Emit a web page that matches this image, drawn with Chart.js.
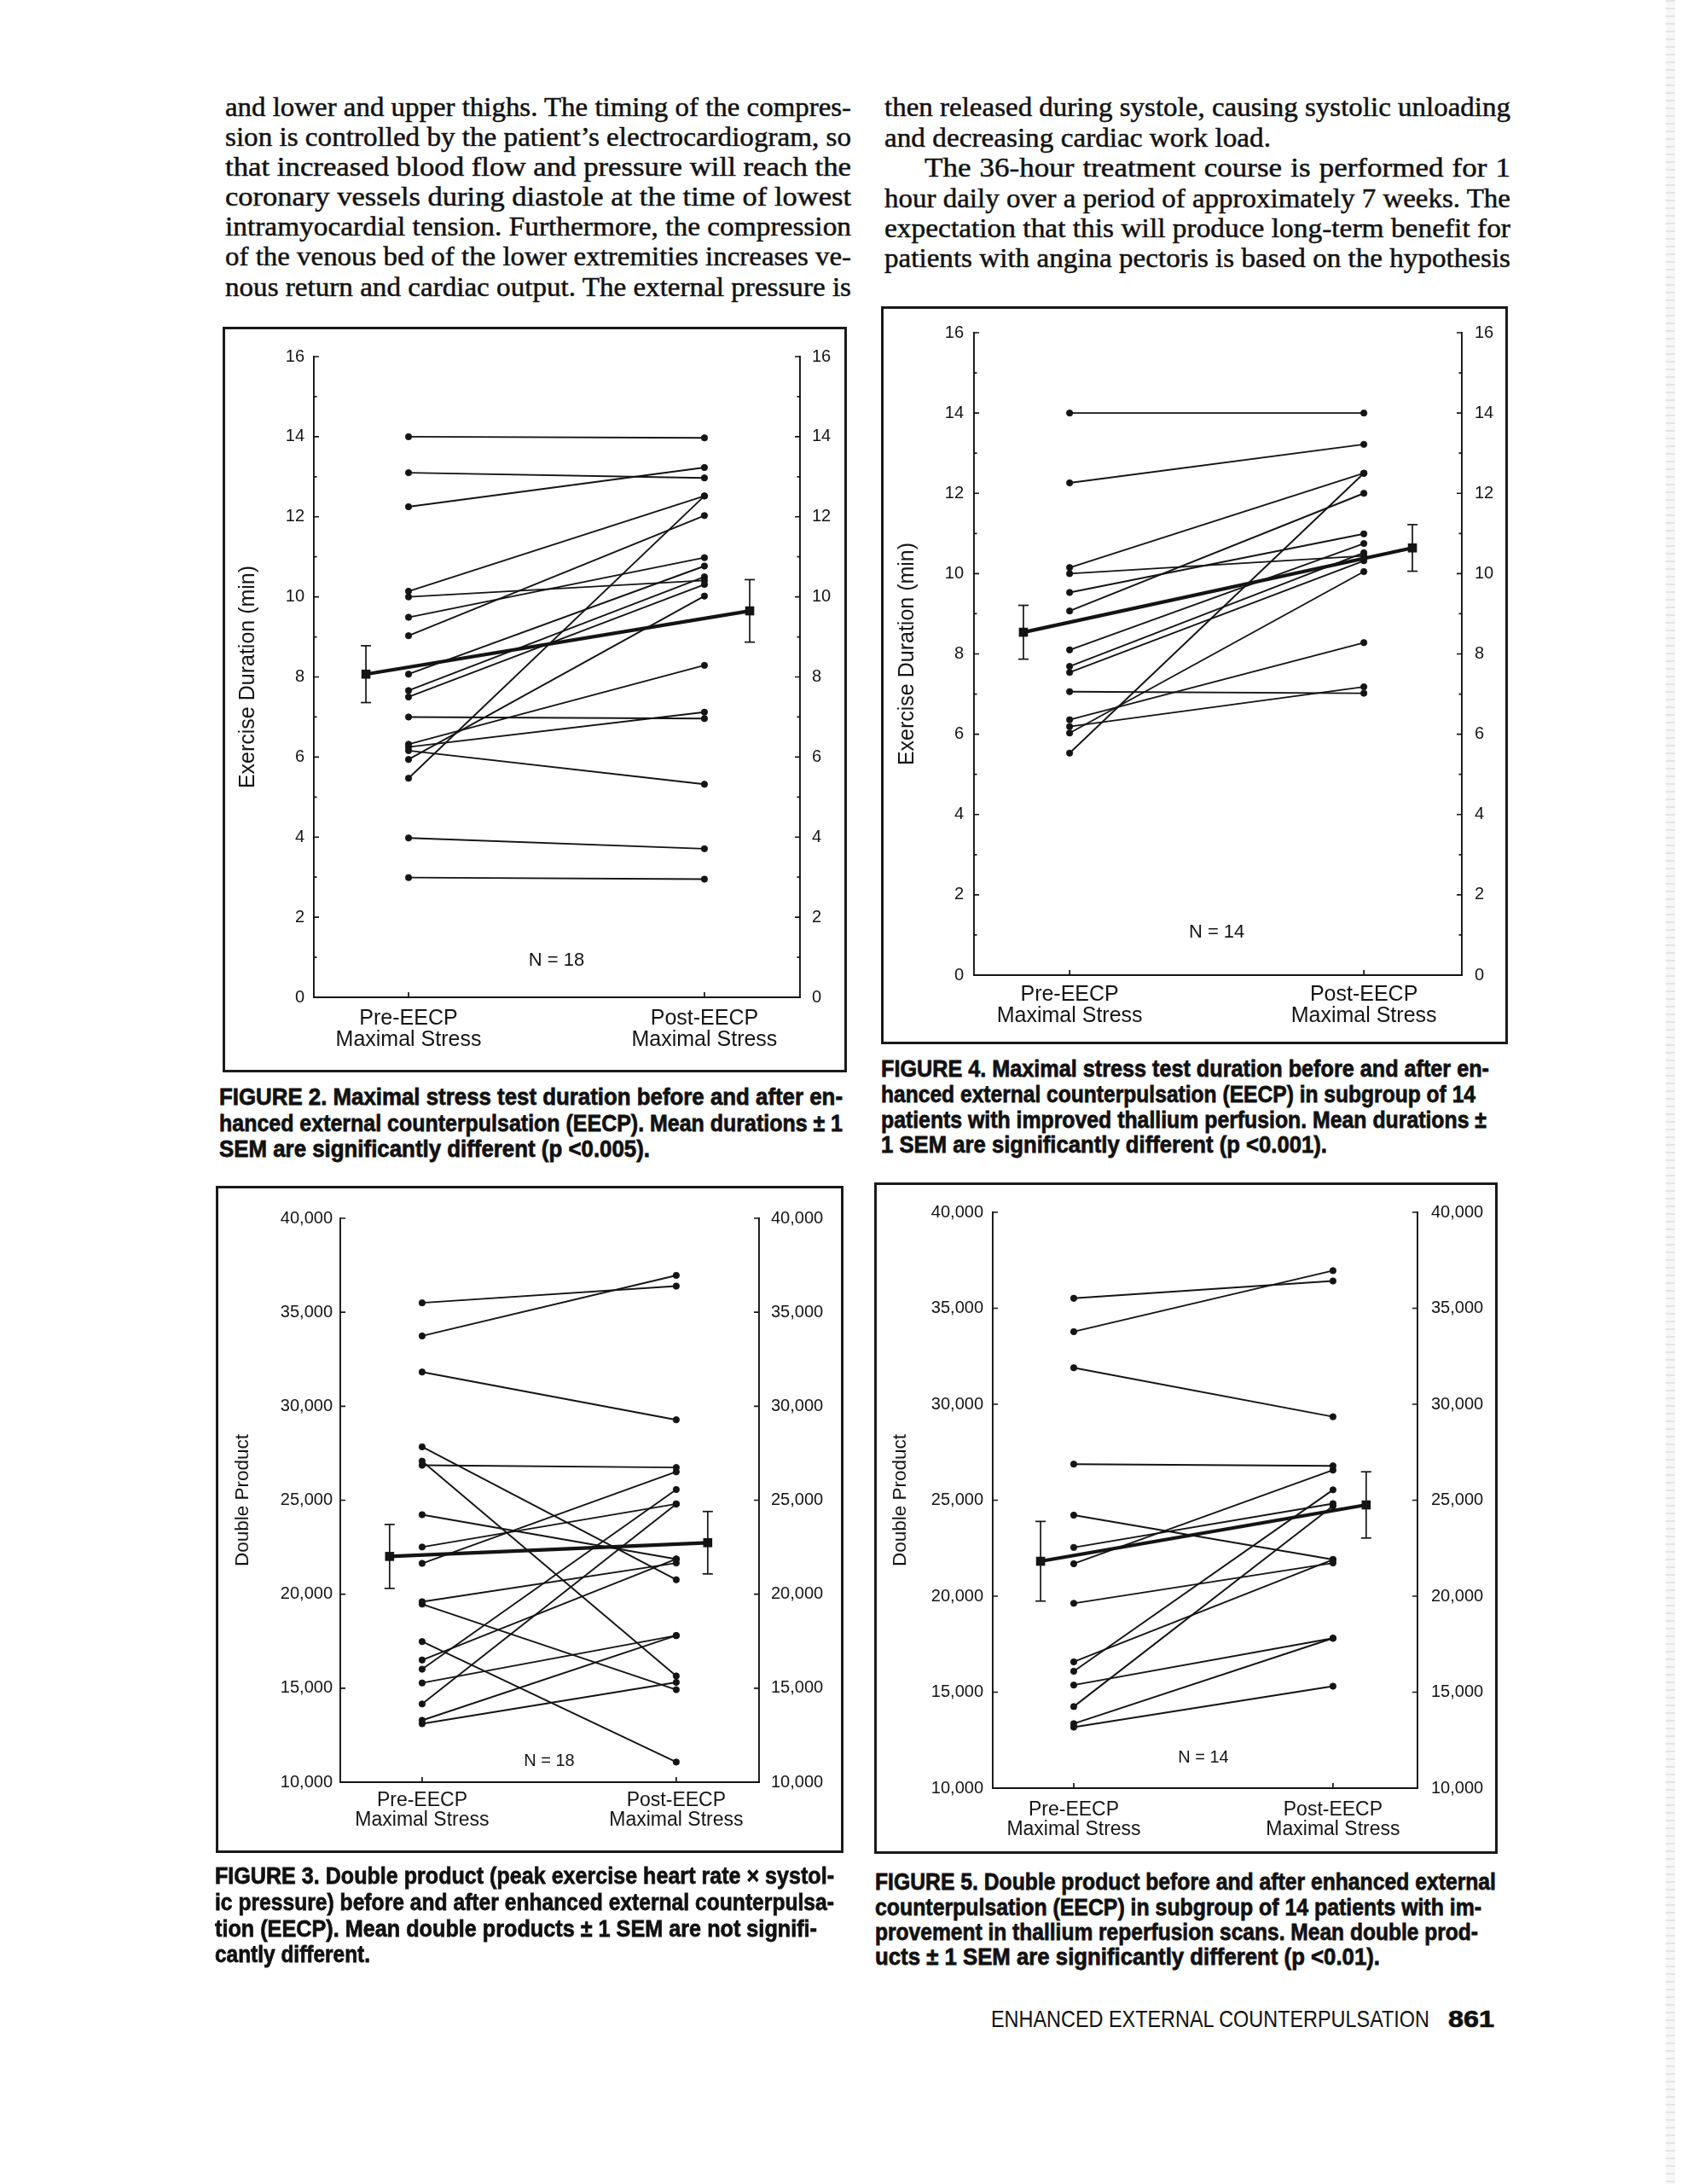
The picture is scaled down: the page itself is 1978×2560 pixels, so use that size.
<!DOCTYPE html>
<html>
<head>
<meta charset="utf-8">
<script src="https://cdn.jsdelivr.net/npm/chart.js@4.4.1/dist/chart.umd.min.js"></script>
<style>
html, body { margin:0; padding:0; background:#fff; }
body { position:relative; width:1978px; height:2560px; overflow:hidden; }
.ln { position:absolute; white-space:nowrap; line-height:1; transform-origin:0 50%; color:#111; }
.serif { font-family:"Liberation Serif","DejaVu Serif",serif; font-size:35px; -webkit-text-stroke:0.55px #111; }
.cap { font-family:"Liberation Sans","DejaVu Sans",sans-serif; font-weight:700; font-size:36px; -webkit-text-stroke:1px #111; }
.foot { font-family:"Liberation Sans","DejaVu Sans",sans-serif; font-size:31px; }
.footb { font-family:"Liberation Sans","DejaVu Sans",sans-serif; font-size:31px; font-weight:700; -webkit-text-stroke:0.8px #111; }
.frame { position:absolute; border:3px solid #1a1a1a; box-sizing:border-box; pointer-events:none; }
canvas.fig { position:absolute; }
.scanedge { position:absolute; left:1953px; top:0; width:11px; height:2560px;
  background:repeating-linear-gradient(180deg, rgba(0,0,0,0.10) 0 2px, rgba(0,0,0,0.03) 2px 9px); }
</style>
</head>
<body>
<div class="scanedge"></div>
<canvas id="c2" class="fig"></canvas>
<canvas id="c4" class="fig"></canvas>
<canvas id="c3" class="fig"></canvas>
<canvas id="c5" class="fig"></canvas>
<div id="frames"></div>
<div id="texts"></div>
<script>
// ---------------- DATA ----------------
const categories = [["Pre-EECP", "Maximal Stress"], ["Post-EECP", "Maximal Stress"]];

const durationTickValues = [0, 2, 4, 6, 8, 10, 12, 14, 16];
const durationTickLabels = ["0", "2", "4", "6", "8", "10", "12", "14", "16"];
const durationMinorTicks = [1, 3, 5, 7, 9, 11, 13, 15];

const dpTickValues = [10000, 15000, 20000, 25000, 30000, 35000, 40000];
const dpTickLabels = ["10,000", "15,000", "20,000", "25,000", "30,000", "35,000", "40,000"];

// Figure 2: exercise duration (min), N = 18
const fig2Pre  = [14.0, 13.1, 12.25, 10.14, 10.0, 9.49, 9.03, 8.07, 7.66, 7.5, 7.0, 6.32, 6.25, 6.16, 5.94, 5.47, 3.98, 2.99];
const fig2Post = [13.97, 12.97, 13.23, 12.52, 10.41, 10.98, 12.03, 10.77, 10.5, 10.31, 6.96, 8.29, 7.12, 5.32, 10.02, 12.52, 3.71, 2.95];
const fig2Mean = [8.07, 9.65];
const fig2Sem  = [0.71, 0.78];

// Figure 4: exercise duration (min), subgroup N = 14
const fig4Pre  = [14.0, 12.26, 10.15, 10.0, 9.53, 9.07, 8.1, 7.69, 7.54, 7.06, 6.36, 6.19, 6.03, 5.53];
const fig4Post = [14.0, 13.22, 12.5, 10.44, 10.99, 12.0, 10.75, 10.52, 10.32, 7.02, 8.28, 7.18, 10.05, 12.5];
const fig4Mean = [8.54, 10.64];
const fig4Sem  = [0.67, 0.58];

// Figure 3: double product, N = 18
const fig3Pre  = [35500, 33740, 31820, 27840, 27080, 26860, 24230, 22510, 21640, 19600, 19470, 17480, 16500, 16010, 15280, 14160, 13290, 13110];
const fig3Post = [36390, 36960, 29280, 20770, 15650, 26740, 21870, 24800, 26510, 21660, 14920, 11070, 21870, 25570, 17800, 24800, 17800, 15310];
const fig3Mean = [22010, 22740];
const fig3Sem  = [1700, 1660];

// Figure 5: double product, subgroup N = 14
const fig5Pre  = [35520, 33780, 31900, 26880, 24220, 22540, 21690, 19630, 16580, 16090, 15370, 14250, 13360, 13180];
const fig5Post = [36420, 36960, 29350, 26790, 21910, 24820, 26570, 21730, 21910, 25540, 17810, 24700, 17810, 15310];
const fig5Mean = [21820, 24755];
const fig5Sem  = [2075, 1725];

// ---------------- PAGE TEXT ----------------
const bodyLines = [
  ["and lower and upper thighs. The timing of the compres-", 264, 126, 734],
  ["sion is controlled by the patient\u2019s electrocardiogram, so", 264, 161, 734],
  ["that increased blood flow and pressure will reach the", 264, 196, 734],
  ["coronary vessels during diastole at the time of lowest", 264, 231, 734],
  ["intramyocardial tension. Furthermore, the compression", 264, 266, 734],
  ["of the venous bed of the lower extremities increases ve-", 264, 301, 734],
  ["nous return and cardiac output. The external pressure is", 264, 337, 734],
  ["then released during systole, causing systolic unloading", 1037, 126, 734],
  ["and decreasing cardiac work load.", 1037, 162, 453],
  ["The 36-hour treatment course is performed for 1", 1084, 197, 687],
  ["hour daily over a period of approximately 7 weeks. The", 1037, 233, 734],
  ["expectation that this will produce long-term benefit for", 1037, 268, 734],
  ["patients with angina pectoris is based on the hypothesis", 1037, 303, 734]
];
const captionLines = [
  ["FIGURE 2. Maximal stress test duration before and after en-", 257, 1286, 731],
  ["hanced external counterpulsation (EECP). Mean durations \u00b1 1", 257, 1317, 731],
  ["SEM are significantly different (p <0.005).", 257, 1347, 505],
  ["FIGURE 4. Maximal stress test duration before and after en-", 1033, 1253, 713],
  ["hanced external counterpulsation (EECP) in subgroup of 14", 1033, 1283, 697],
  ["patients with improved thallium perfusion. Mean durations \u00b1", 1033, 1313, 710],
  ["1 SEM are significantly different (p <0.001).", 1033, 1342, 523],
  ["FIGURE 3. Double product (peak exercise heart rate \u00d7 systol-", 252, 2199, 726],
  ["ic pressure) before and after enhanced external counterpulsa-", 252, 2230, 726],
  ["tion (EECP). Mean double products \u00b1 1 SEM are not signifi-", 252, 2261, 706],
  ["cantly different.", 252, 2291, 182],
  ["FIGURE 5. Double product before and after enhanced external", 1026, 2206, 728],
  ["counterpulsation (EECP) in subgroup of 14 patients with im-", 1026, 2236, 711],
  ["provement in thallium reperfusion scans. Mean double prod-", 1026, 2265, 707],
  ["ucts \u00b1 1 SEM are significantly different (p <0.01).", 1026, 2294, 592]
];
const footerLines = [
  ["ENHANCED EXTERNAL COUNTERPULSATION", 1162, 2367, 514, "foot", 0.9],
  ["861", 1698, 2367, 54, "footb", 0.9]
];

function placeLine(text, x, y, w, cls, sy) {
  const el = document.createElement('div');
  el.className = 'ln ' + cls;
  el.textContent = text;
  el.style.left = x + 'px';
  el.style.top = y + 'px';
  document.getElementById('texts').appendChild(el);
  const nat = el.getBoundingClientRect().width;
  let sx = w / nat;
  if (sx > 1) {
    const spaces = (text.match(/ /g) || []).length;
    if (spaces) { el.style.wordSpacing = ((w - nat) / spaces) + 'px'; sx = 1; }
  }
  el.style.transform = 'translateY(-50%) scale(' + sx + ',' + sy + ')';
}
bodyLines.forEach(l => placeLine(l[0], l[1], l[2], l[3], 'serif', 0.88));
captionLines.forEach(l => placeLine(l[0], l[1], l[2], l[3], 'cap', 0.76));
footerLines.forEach(l => placeLine(l[0], l[1], l[2], l[3], l[4], l[5]));

// ---------------- CHARTS ----------------
const ink = '#141414';
Chart.defaults.font.family = '"Liberation Sans", Arial, sans-serif';
Chart.defaults.color = ink;

const pageMarks = {
  id: 'pageMarks',
  afterDraw(chart, args, o) {
    const ctx = chart.ctx;
    const xs = chart.scales.x, yl = chart.scales.y, yr = chart.scales.y2;
    ctx.save();
    ctx.strokeStyle = ink;
    ctx.lineWidth = 1.7;
    ctx.beginPath();
    [[yl, 1, yl.right], [yr, -1, yr.left]].forEach(([s, dir, ax]) => {
      s.ticks.forEach(t => {
        const py = s.getPixelForValue(t.value);
        ctx.moveTo(ax, py); ctx.lineTo(ax + dir * 6, py);
      });
      (o.minor || []).forEach(v => {
        const py = s.getPixelForValue(v);
        ctx.moveTo(ax, py); ctx.lineTo(ax + dir * 3.5, py);
      });
    });
    xs.ticks.forEach(t => {
      const px = xs.getPixelForValue(t.value);
      ctx.moveTo(px, xs.top); ctx.lineTo(px, xs.top - 6);
    });
    ctx.stroke();
    ctx.fillStyle = ink;
    ctx.font = o.nFont + 'px "Liberation Sans", Arial, sans-serif';
    ctx.textAlign = 'center';
    ctx.textBaseline = 'middle';
    ctx.fillText(o.nText, xs.getPixelForValue(1.5), yl.getPixelForValue(o.nY));
    ctx.restore();
  }
};

function buildChart(id, L, d) {
  const W = L.box[2] - L.box[0], H = L.box[3] - L.box[1];
  const cv = document.getElementById(id);
  cv.width = W; cv.height = H;
  cv.style.left = L.box[0] + 'px'; cv.style.top = L.box[1] + 'px';
  cv.style.width = W + 'px'; cv.style.height = H + 'px';

  const fr = document.createElement('div');
  fr.className = 'frame';
  fr.style.left = L.box[0] + 'px'; fr.style.top = L.box[1] + 'px';
  fr.style.width = W + 'px'; fr.style.height = H + 'px';
  document.getElementById('frames').appendChild(fr);

  const datasets = d.pre.map((v, i) => ({
    data: [{x: 1, y: v}, {x: 2, y: d.post[i]}],
    showLine: true, borderColor: ink, borderWidth: 1.9,
    pointRadius: 3.7, pointStyle: 'circle', pointBackgroundColor: ink,
    pointBorderColor: ink, pointBorderWidth: 0.8, clip: false
  }));
  const mx = [1 - d.meanOff[0], 2 + d.meanOff[1]];
  datasets.push({
    data: mx.map((x, k) => ({x: x, y: d.mean[k]})),
    showLine: true, borderColor: ink, borderWidth: 4.2,
    pointStyle: 'rect', pointRadius: 7.5, pointBackgroundColor: ink,
    pointBorderColor: ink, pointBorderWidth: 0, clip: false
  });
  mx.forEach((x, k) => datasets.push({
    data: [{x: x, y: d.mean[k] - d.sem[k]}, {x: x, y: d.mean[k] + d.sem[k]}],
    showLine: true, borderColor: ink, borderWidth: 1.7,
    pointStyle: 'line', pointRadius: 6, pointBorderColor: ink,
    pointBorderWidth: 1.7, clip: false
  }));

  const yMin = d.tickValues[0], yMax = d.tickValues[d.tickValues.length - 1];
  const yAxis = (pos) => ({
    type: 'linear', position: pos, min: yMin, max: yMax,
    afterBuildTicks: s => { s.ticks = d.tickValues.map(v => ({value: v})); },
    afterFit: s => { s.width = pos === 'left' ? (L.plot[0] - L.box[0]) : (L.box[2] - L.plot[2]); },
    grid: {display: false, drawTicks: false},
    border: {display: true, color: ink, width: 1.9},
    ticks: {callback: (v, i) => d.tickLabels[i], color: ink, font: {size: 20}, padding: pos === 'left' ? d.lPad : d.rPad},
    title: pos === 'left'
      ? {display: true, text: d.yTitle, color: ink, font: {size: d.titleFont}, padding: {top: d.titlePad, bottom: 0}}
      : {display: false}
  });

  new Chart(cv, {
    type: 'scatter',
    data: {datasets: datasets},
    options: {
      responsive: false, animation: false, events: [],
      layout: {padding: {top: L.plot[1] - L.box[1], left: 0, right: 0, bottom: 0}},
      plugins: {
        legend: {display: false}, tooltip: {enabled: false},
        pageMarks: {minor: d.minor, nText: d.nText, nY: d.nY, nFont: d.nFont}
      },
      scales: {
        x: {
          type: 'linear', min: d.xRange[0], max: d.xRange[1],
          afterBuildTicks: s => { s.ticks = [{value: 1}, {value: 2}]; },
          afterFit: s => { s.height = L.box[3] - L.plot[3]; },
          grid: {display: false, drawTicks: false},
          border: {display: true, color: ink, width: 1.9},
          ticks: {callback: (v, i) => categories[i], color: ink,
                  font: {size: d.xFont, lineHeight: 1.0}, padding: d.xPad,
                  maxRotation: 0, minRotation: 0, autoSkip: false}
        },
        y: yAxis('left'),
        y2: yAxis('right')
      }
    },
    plugins: [pageMarks]
  });
}

buildChart('c2', {box: [261, 383, 993, 1257], plot: [368, 418, 938, 1169]}, {
  pre: fig2Pre, post: fig2Post, mean: fig2Mean, sem: fig2Sem,
  tickValues: durationTickValues, tickLabels: durationTickLabels, minor: durationMinorTicks,
  xRange: [0.680, 2.323], meanOff: [0.144, 0.153],
  yTitle: 'Exercise Duration (min)', titleFont: 25, titlePad: 15,
  lPad: 11, rPad: 14, xFont: 25, xPad: 12.5,
  nText: 'N = 18', nY: 0.92, nFont: 22
});
buildChart('c4', {box: [1033, 359, 1768, 1224], plot: [1142, 390, 1714, 1143]}, {
  pre: fig4Pre, post: fig4Post, mean: fig4Mean, sem: fig4Sem,
  tickValues: durationTickValues, tickLabels: durationTickLabels, minor: durationMinorTicks,
  xRange: [0.675, 2.333], meanOff: [0.157, 0.165],
  yTitle: 'Exercise Duration (min)', titleFont: 25, titlePad: 16,
  lPad: 12, rPad: 15, xFont: 25, xPad: 10.5,
  nText: 'N = 14', nY: 1.06, nFont: 22
});
buildChart('c3', {box: [253, 1390, 989, 2172], plot: [399, 1428, 890, 2089]}, {
  pre: fig3Pre, post: fig3Post, mean: fig3Mean, sem: fig3Sem,
  tickValues: dpTickValues, tickLabels: dpTickLabels, minor: [],
  xRange: [0.678, 2.326], meanOff: [0.128, 0.124],
  yTitle: 'Double Product', titleFont: 22.5, titlePad: 18.5,
  lPad: 9, rPad: 14, xFont: 23, xPad: 10.5,
  nText: 'N = 18', nY: 11135, nFont: 20
});
buildChart('c5', {box: [1025, 1386, 1756, 2173], plot: [1164, 1421, 1662, 2096]}, {
  pre: fig5Pre, post: fig5Post, mean: fig5Mean, sem: fig5Sem,
  tickValues: dpTickValues, tickLabels: dpTickLabels, minor: [],
  xRange: [0.6875, 2.326], meanOff: [0.128, 0.128],
  yTitle: 'Double Product', titleFont: 22.5, titlePad: 17.5,
  lPad: 11, rPad: 16, xFont: 23, xPad: 14,
  nText: 'N = 14', nY: 11600, nFont: 20
});
</script>
</body>
</html>
